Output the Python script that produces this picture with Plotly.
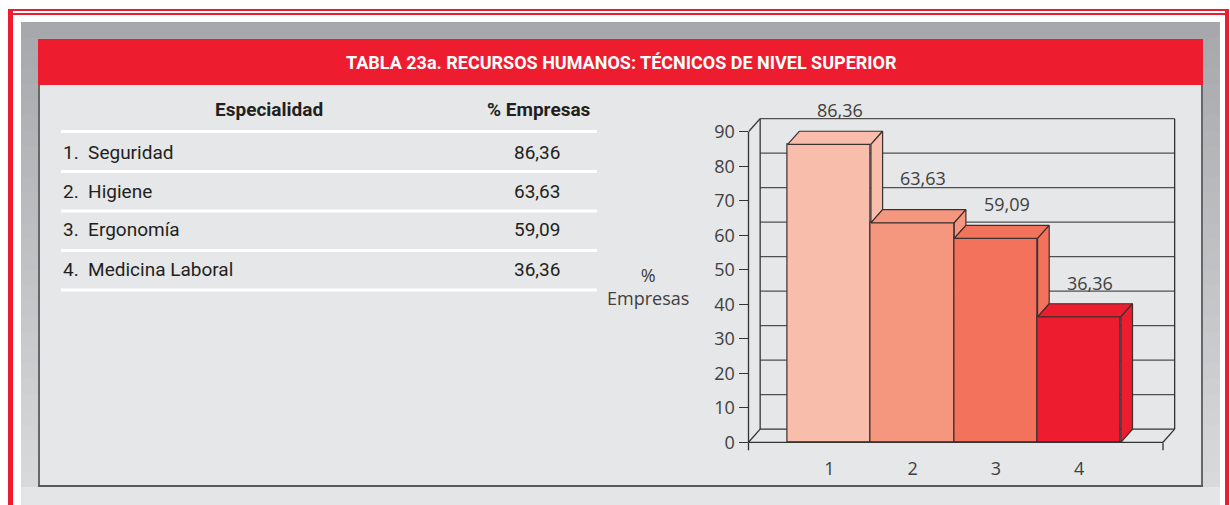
import plotly.graph_objects as go

W, H = 1230, 505

# ---------------- data ----------------
categories = ["1", "2", "3", "4"]
especialidades = ["Seguridad", "Higiene", "Ergonomía", "Medicina Laboral"]
pct_empresas = [86.36, 63.63, 59.09, 36.36]
y_ticks = [0, 10, 20, 30, 40, 50, 60, 70, 80, 90]
title_text = "TABLA 23a. RECURSOS HUMANOS: TÉCNICOS DE NIVEL SUPERIOR"
col_headers = ["Especialidad", "% Empresas"]
y_title = "%<br>Empresas"

# ---------------- style ----------------
bar_colors = ["#f9bdab", "#f5967f", "#f2725b", "#ed1c2e"]
label_lift = [21, 32, 21, 21]
edge = "#3a3030"
grid = "#4f4f4f"
text_col = "#404040"
red = "#ed1c2e"
panel = "#e6e7e8"
CHART_FONT = "Open Sans"
TABLE_FONT = "Roboto"


def fmt(v):
    return f"{v:.2f}".replace(".", ",")


def px(x):
    return x / W


def py(y):
    return 1 - y / H


# chart geometry (axis ranges / domains)
x_min, x_max = 0.03, 5.25
floor_end = 5.006
DX, DY = 0.14, 3.8
y_top = 95
xdom = [748.5 / W, (748.5 + (x_max - x_min) * 83.3) / W]
ydom = [py(442.3), py(442.3 - y_top * 3.45)]

fig = go.Figure()
shapes = []
annotations = []


def prect(x0, y0, x1, y1, fill, layer="below"):
    shapes.append(dict(type="rect", xref="paper", yref="paper", x0=px(x0), x1=px(x1),
                       y0=py(y1), y1=py(y0), fillcolor=fill, line=dict(width=0), layer=layer))


def pline(x0, y0, x1, y1, color, width, layer="below"):
    shapes.append(dict(type="line", xref="paper", yref="paper", x0=px(x0), x1=px(x1),
                       y0=py(y0), y1=py(y1), line=dict(color=color, width=width), layer=layer))


# ---- outer frame ----
prect(8, 9, 1229, 505, red)
prect(13, 11, 1225, 505, "white")
pline(13, 14, 1225, 14, red, 2)
# gray frame with vertical gradient
c0 = (0xa6, 0xa8, 0xab)
c1 = (0xd8, 0xd9, 0xdb)
nb = 30
top, bot = 22, 487
for k in range(nb):
    t = k / (nb - 1)
    col = "rgb(%d,%d,%d)" % tuple(round(a + (b - a) * t) for a, b in zip(c0, c1))
    y0 = top + (bot - top) * k / nb
    y1 = top + (bot - top) * (k + 1) / nb + 0.6
    prect(21, y0, 1220, y1, col)
prect(21, 487, 1220, 505, "#e4e5e7")

# ---- title bar and panel ----
prect(38, 39, 1203, 85, red)
prect(38, 85, 1203, 487, panel)
pline(39, 85, 39, 487, "#58595b", 1.8)
pline(38, 486, 1203, 486, "#58595b", 1.8)
pline(1202, 85, 1202, 487, "#58595b", 1.8)

annotations.append(dict(text="<b>" + title_text + "</b>", xref="paper", yref="paper",
                        x=px(621), y=py(62), showarrow=False, xanchor="center", yanchor="middle",
                        font=dict(family="Roboto", size=18, color="white")))

# ---- table ----
for yl in [131.5, 171.5, 211, 250.5, 290]:
    pline(61, yl, 597, yl, "white", 3)

annotations.append(dict(text="<b>" + col_headers[0] + "</b>", xref="paper", yref="paper",
                        x=px(269), y=py(110), showarrow=False, xanchor="center", yanchor="middle",
                        font=dict(family=TABLE_FONT, size=19, color="#231f20")))
annotations.append(dict(text="<b>" + col_headers[1] + "</b>", xref="paper", yref="paper",
                        x=px(593), y=py(110), showarrow=False, xanchor="right", yanchor="middle",
                        font=dict(family=TABLE_FONT, size=19, color="#231f20")))
row_y = [152, 191, 230, 269]
for i, (name, val) in enumerate(zip(especialidades, pct_empresas)):
    annotations.append(dict(text=f"{i + 1}.&nbsp;&nbsp;{name}", xref="paper", yref="paper",
                            x=px(61), y=py(row_y[i]), showarrow=False, xanchor="left", yanchor="middle",
                            font=dict(family=TABLE_FONT, size=19, color="#231f20")))
    annotations.append(dict(text=fmt(val), xref="paper", yref="paper",
                            x=px(562), y=py(row_y[i]), showarrow=False, xanchor="right", yanchor="middle",
                            font=dict(family=TABLE_FONT, size=19, color="#231f20")))

# ---- y axis title ----
annotations.append(dict(text=y_title, xref="paper", yref="paper", x=px(648), y=py(286),
                        showarrow=False, xanchor="center", yanchor="middle", align="center",
                        font=dict(family=CHART_FONT, size=18, color=text_col)))

# ---- 3D walls (data coordinates) ----
def dline(x0, y0, x1, y1, color=grid, width=1.3, xref="x", yref="y"):
    shapes.append(dict(type="line", xref=xref, yref=yref, x0=x0, x1=x1, y0=y0, y1=y1,
                       line=dict(color=color, width=width), layer="below"))


bx0, bx1 = x_min + DX, floor_end + DX
for t in y_ticks[1:]:
    dline(bx0, t + DY, bx1, t + DY)
dline(bx0, DY, bx1, DY, color="#333333")
dline(bx0, DY, bx0, y_ticks[-1] + DY, color="#333333")
dline(bx1, DY, bx1, y_ticks[-1] + DY, color="#333333")
dline(x_min, 0, bx0, DY, color="#333333")
dline(floor_end, 0, bx1, DY, color="#333333")
dline(x_min, y_ticks[-1], bx0, y_ticks[-1] + DY, color="#333333")
# front y axis line and floor line
shapes.append(dict(type="line", xref="x domain", yref="y", x0=0, x1=0, y0=0, y1=y_ticks[-1],
                   line=dict(color="#333333", width=1.3), layer="above"))
shapes.append(dict(type="line", xref="x", yref="y domain", x0=x_min, x1=floor_end, y0=0, y1=0,
                   line=dict(color="#333333", width=1.3), layer="above"))
# end ticks of category axis
shapes.append(dict(type="line", xref="x domain", yref="y domain", ysizemode="pixel", yanchor=0,
                   x0=0, x1=0, y0=0, y1=-8, line=dict(color="#333333", width=1.3)))
shapes.append(dict(type="line", xref="x", yref="y domain", ysizemode="pixel", yanchor=0,
                   x0=floor_end, x1=floor_end, y0=0, y1=-8, line=dict(color="#333333", width=1.3)))

# ---- bars: front faces ----
xpos = [i + 1 for i in range(len(categories))]
fig.add_trace(go.Bar(x=xpos, y=pct_empresas, width=1, marker=dict(color=bar_colors,
                     line=dict(color=edge, width=1.2)), hoverinfo="skip"))

# ---- bars: top and visible side faces ----
for i, v in enumerate(pct_empresas):
    xc = xpos[i]
    nxt = pct_empresas[i + 1] if i + 1 < len(pct_empresas) else 0
    fig.add_trace(go.Scatter(x=[xc - 0.5, xc + 0.5, xc + 0.5 + DX, xc - 0.5 + DX, xc - 0.5],
                             y=[v, v, v + DY, v + DY, v], mode="lines", fill="toself",
                             fillcolor=bar_colors[i], line=dict(color=edge, width=1.2),
                             hoverinfo="skip"))
    fig.add_trace(go.Scatter(x=[xc + 0.5, xc + 0.5, xc + 0.5 + DX, xc + 0.5 + DX, xc + 0.5],
                             y=[nxt, v, v + DY, nxt + DY, nxt], mode="lines", fill="toself",
                             fillcolor=bar_colors[i], line=dict(color=edge, width=1.2),
                             hoverinfo="skip"))
    annotations.append(dict(text=fmt(v), xref="x", yref="y", x=xc + DX / 2, y=v + DY,
                            xshift=5, yshift=label_lift[i], showarrow=False,
                            xanchor="center", yanchor="middle",
                            font=dict(family=CHART_FONT, size=18, color=text_col)))

fig.update_layout(
    width=W, height=H, autosize=False, margin=dict(l=0, r=0, t=0, b=0, pad=0),
    paper_bgcolor="white", plot_bgcolor="rgba(0,0,0,0)",
    showlegend=False, hovermode=False, bargap=0,
    shapes=shapes, annotations=annotations,
    xaxis=dict(domain=xdom, range=[x_min, x_max], tickvals=xpos, ticktext=categories,
               ticks="outside", ticklen=10, tickcolor="rgba(0,0,0,0)", showgrid=False,
               zeroline=False, showline=False, automargin=False,
               tickfont=dict(family=CHART_FONT, size=18, color=text_col)),
    yaxis=dict(domain=ydom, range=[0, y_top], tickvals=y_ticks, ticks="outside", ticklen=9,
               tickwidth=1.3, tickcolor="#333333", showgrid=False, zeroline=False, showline=False,
               automargin=False,
               tickfont=dict(family=CHART_FONT, size=18, color=text_col)),
)

fig.write_html(
    "out.html",
    config={"displayModeBar": False, "responsive": False},
    post_script=(
        "var s=document.documentElement.style;s.margin='0';s.padding='0';s.overflow='hidden';"
        "s.height='505px';"
        "var b=document.body.style;b.margin='0';b.padding='0';b.overflow='hidden';b.height='505px';"
    ),
)
